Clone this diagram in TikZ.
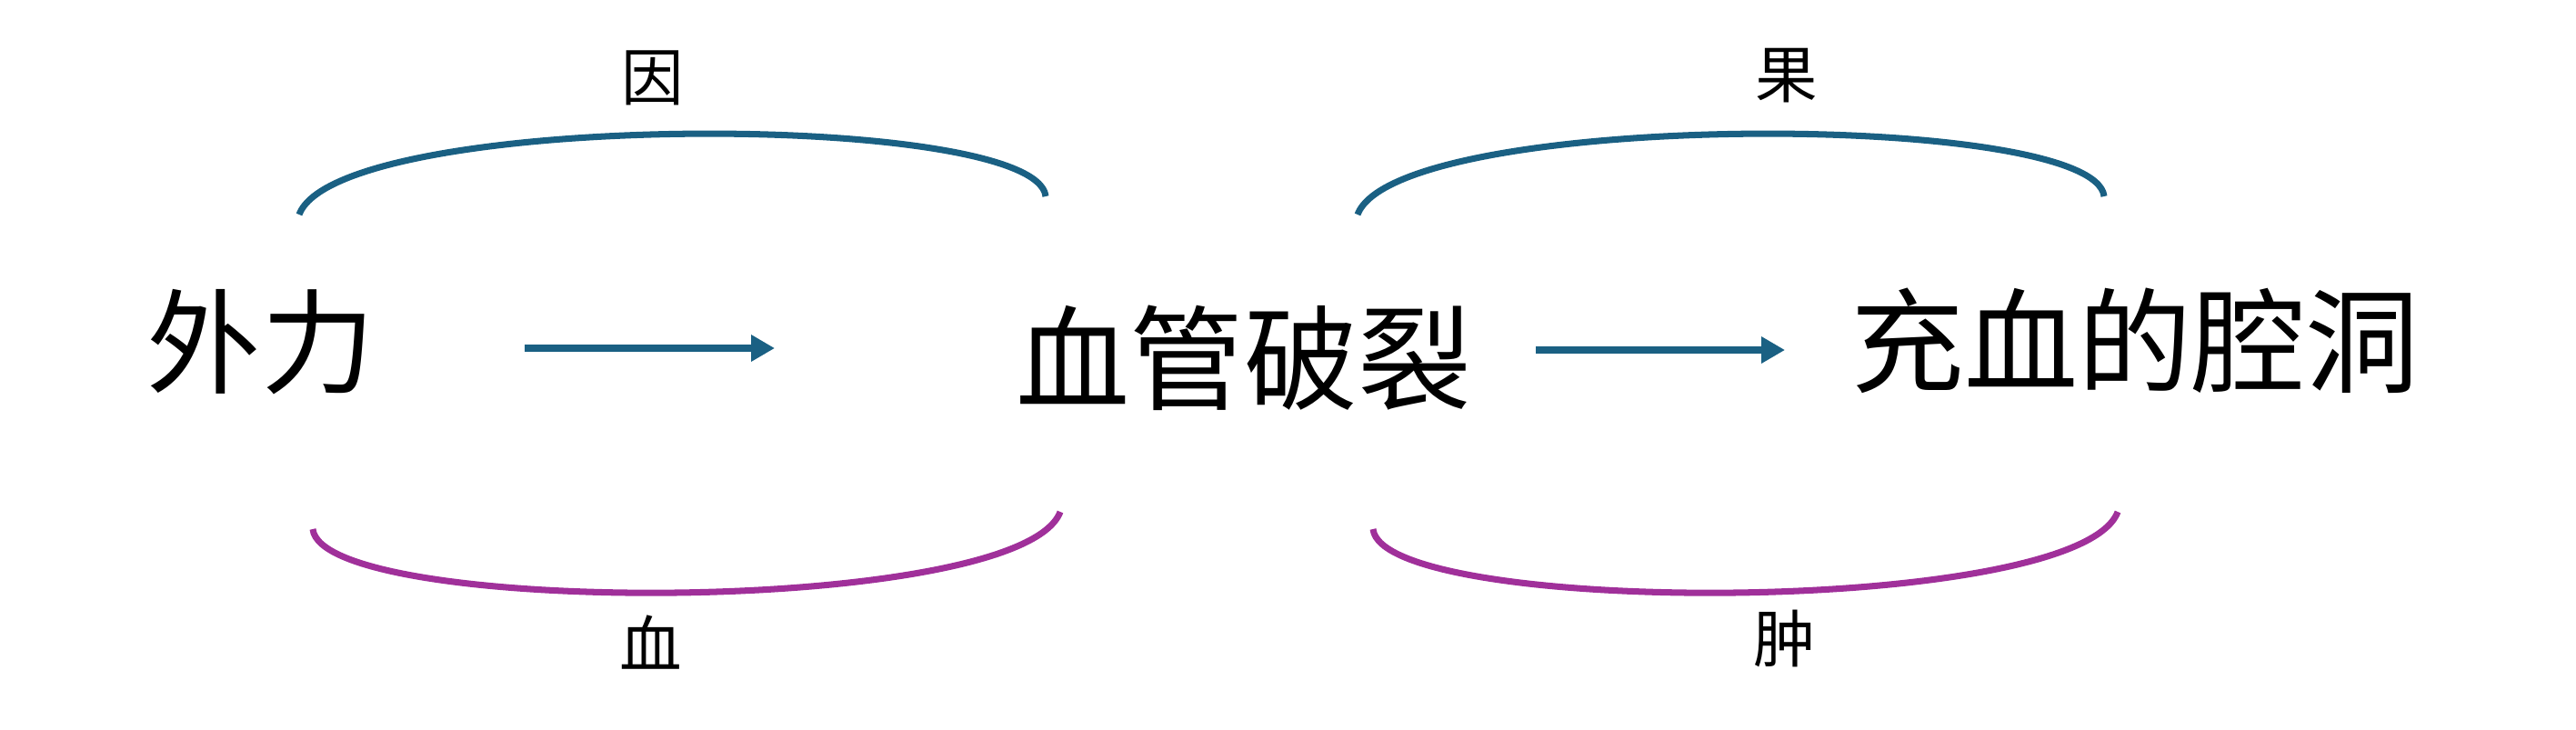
\documentclass[tikz,border=0pt]{standalone}
\usepackage{fontspec}
\newfontfamily\cjk{Noto Sans CJK SC}
\usepackage{tkz-euclide}
\usetikzlibrary{calc}
\usetikzlibrary{arrows.meta}
\definecolor{myblue}{RGB}{26,96,131}
\definecolor{mypurple}{RGB}{160,48,154}

\begin{document}
\begin{tikzpicture}[%
  >={Triangle[length=2.6mm,width=2.8mm]},
  term/.style={font=\cjk\fontsize{35.6}{40}\selectfont, inner sep=0pt},
  tag/.style={font=\cjk\fontsize{19.5}{22}\selectfont, inner sep=0pt},
  arc/.style={line width=2pt},
]
  \useasboundingbox (0,0) rectangle (28.33,8.02);

  \node[term] (waili)  at (2.87,4.26)  {外力};
  \node[term] (polie)  at (13.68,4.08) {血管破裂};
  \node[term] (qiang)  at (23.48,4.27) {充血的腔洞};

  \tkzDefPoint(5.77,4.19){a0}
  \tkzDefPoint(8.52,4.19){a1}
  \tkzDefPoint(16.89,4.17){a2}
  \tkzDefPoint(19.63,4.17){a3}

  \tkzDefPoint(3.29,5.66){u0}
  \tkzDefPoint(11.50,5.86){u1}
  \tkzDefPoint(14.93,5.66){u2}
  \tkzDefPoint(23.14,5.86){u3}

  \tkzDefPoint(3.44,2.20){d0}
  \tkzDefPoint(11.66,2.39){d1}
  \tkzDefPoint(15.10,2.20){d2}
  \tkzDefPoint(23.29,2.39){d3}

  \draw[->, myblue, line width=2pt] (a0) -- (a1);
  \draw[->, myblue, line width=2pt] (a2) -- (a3);

  \draw[arc, myblue] (u0) .. controls +(0.43,1.15) and +(-0.10,0.95) .. (u1);
  \draw[arc, myblue] (u2) .. controls +(0.43,1.15) and +(-0.10,0.95) .. (u3);
  \draw[arc, mypurple] (d0) .. controls +(0.10,-0.965) and +(-0.43,-1.155) .. (d1);
  \draw[arc, mypurple] (d2) .. controls +(0.10,-0.965) and +(-0.43,-1.155) .. (d3);

  \node[tag] (yin)  at (7.18,7.16)  {因};
  \node[tag] (xue)  at (7.16,0.95)  {血};
  \node[tag] (guo)  at (19.65,7.19) {果};
  \node[tag] (zhong) at (19.63,0.99) {肿};

\end{tikzpicture}
\end{document}
